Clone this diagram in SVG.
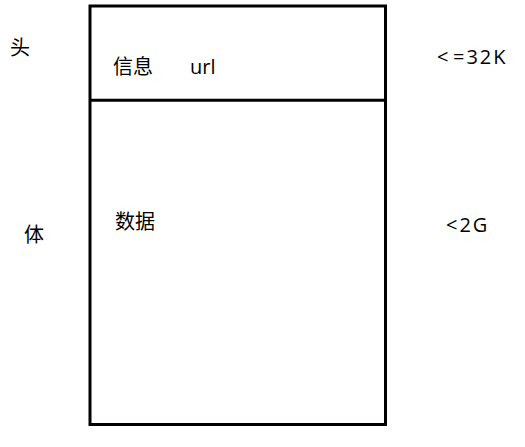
<svg xmlns="http://www.w3.org/2000/svg" width="525" height="447" viewBox="0 0 525 447">
<style>
.box{fill:none;stroke:#000;stroke-width:3}
.t{font-family:"Open Sans","Noto Sans CJK SC",sans-serif;font-size:20px;fill:#000}
.c{font-family:"Noto Sans CJK SC",sans-serif;font-size:20px;fill:#000}
.sp{letter-spacing:2px}
</style>
<rect width="525" height="447" fill="#fff"/>
<g id="message">
<rect class="box" x="90" y="6" width="295.5" height="418.5"/>
</g>
<g id="connectors">
<line class="box" x1="90" y1="100.3" x2="385.5" y2="100.3"/>
</g>
<g id="header">
<text class="c" x="10" y="55">头</text>
<text class="c" x="113" y="74">信息</text>
<text class="t" x="190" y="74">url</text>
<text class="t sp" x="437" y="64">&lt;<tspan x="453">=32K</tspan></text>
</g>
<g id="body">
<text class="c" x="24" y="242">体</text>
<text class="c" x="115" y="229">数据</text>
<text class="t sp" x="446" y="232">&lt;2G</text>
</g>
</svg>
